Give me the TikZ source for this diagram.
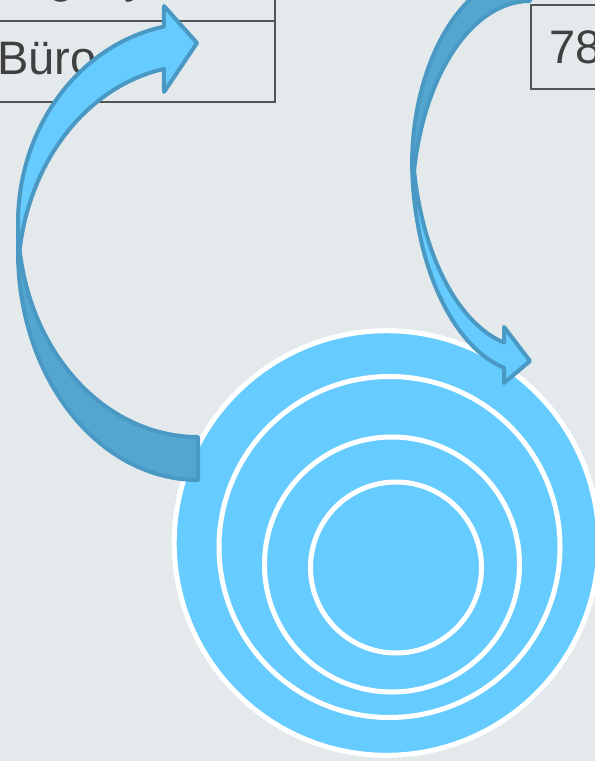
\documentclass[tikz,border=0pt]{standalone}
\usepackage{fontspec}
\setmainfont{Liberation Sans}
\definecolor{bg}{RGB}{228,233,236}
\definecolor{lightblue}{HTML}{66CCFF}
\definecolor{darkblue}{RGB}{82,166,208}
\definecolor{arrowline}{RGB}{74,153,196}
\definecolor{tableline}{RGB}{85,85,85}
\definecolor{textgray}{RGB}{64,64,64}
\begin{document}
\begin{tikzpicture}[x=1bp,y=-1bp,
  frontfill/.style={fill=lightblue},
  backfill/.style={fill=darkblue},
  arrowoutline/.style={draw=arrowline, line width=4bp, line join=round, line cap=round},
  ring/.style={draw=white, line width=5bp},
  tline/.style={draw=tableline, line width=2bp},
  celltext/.style={font=\fontsize{47bp}{50bp}\selectfont, text=textgray, anchor=base west, inner sep=0pt},
  arcplot/.style={samples=60, variable=\t}]
\useasboundingbox (0,0) rectangle (595,761);
\clip (0,0) rectangle (595,761);
\fill[bg] (0,0) rectangle (595,761);

% table cells
\draw[tline] (-10,-61) rectangle (275,20.7);
\draw[tline] (-10,20.7) rectangle (275,101.7);
\draw[tline] (530.5,5) rectangle (620,88.5);
\node[celltext] (t1) at (-4,-7) {Legacy};
\node[celltext] (t2) at (-3,75) {Büro};
\node[celltext] (t3) at (549,63.3) {78};

% concentric circles
\draw[ring, fill=lightblue] (386.5,543) circle[radius=212.3];
\draw[ring] (389.5,547) circle[radius=170.5];
\draw[ring] (392,564.5) circle[radius=127.5];
\draw[ring] (396,567.5) circle[radius=85.5];

% ---------- left curved arrow ----------
% front (light) part
\path[frontfill] plot[arcplot, domain=180:259.1] ({198+180*cos(\t)},{279+214*sin(\t)})
  -- (164,92) -- (197,43) -- (164,6) -- (164,26.6)
  -- plot[arcplot, domain=259.1:180] ({198+180*cos(\t)},{223+200*sin(\t)}) -- cycle;
% back (dark) part
\path[backfill] plot[arcplot, domain=180:90] ({198+180*cos(\t)},{252+228*sin(\t)})
  -- (198,437)
  -- plot[arcplot, domain=90:172.26] ({198+180*cos(\t)},{221+216*sin(\t)}) -- cycle;
% outline
\path[arrowoutline] plot[arcplot, domain=259.1:180] ({198+180*cos(\t)},{223+200*sin(\t)})
  -- plot[arcplot, domain=180:90] ({198+180*cos(\t)},{252+228*sin(\t)})
  -- (198,437)
  -- plot[arcplot, domain=90:172.26] ({198+180*cos(\t)},{221+216*sin(\t)})
  -- plot[arcplot, domain=187.76:259.1] ({198+180*cos(\t)},{279+214*sin(\t)})
  -- (164,92) -- (197,43) -- (164,6) -- cycle;

% ---------- right curved arrow ----------
% front (light) part
\path[frontfill] plot[arcplot, domain=180:102.73] ({530+118*cos(\t)},{130+218*sin(\t)})
  -- (504,327) -- (530,361) -- (504,383)
  -- plot[arcplot, domain=102.73:180] ({530+118*cos(\t)},{158+215*sin(\t)}) -- cycle;
% back (dark) part
\path[backfill] plot[arcplot, domain=270:173.72] ({530+118*cos(\t)},{165.7+193*sin(\t)})
  -- plot[arcplot, domain=186.28:270] ({530+118*cos(\t)},{209.6+208.6*sin(\t)}) -- cycle;
% outline
\path[arrowoutline] plot[arcplot, domain=270:190.75] ({530+118*cos(\t)},{209.6+208.6*sin(\t)})
  -- plot[arcplot, domain=169.24:102.73] ({530+118*cos(\t)},{130+218*sin(\t)})
  -- (504,327) -- (530,361) -- (504,383)
  -- plot[arcplot, domain=102.73:177.95] ({530+118*cos(\t)},{158+215*sin(\t)})
  -- plot[arcplot, domain=180:270] ({530+118*cos(\t)},{165.7+193*sin(\t)}) -- cycle;
\end{tikzpicture}
\end{document}
